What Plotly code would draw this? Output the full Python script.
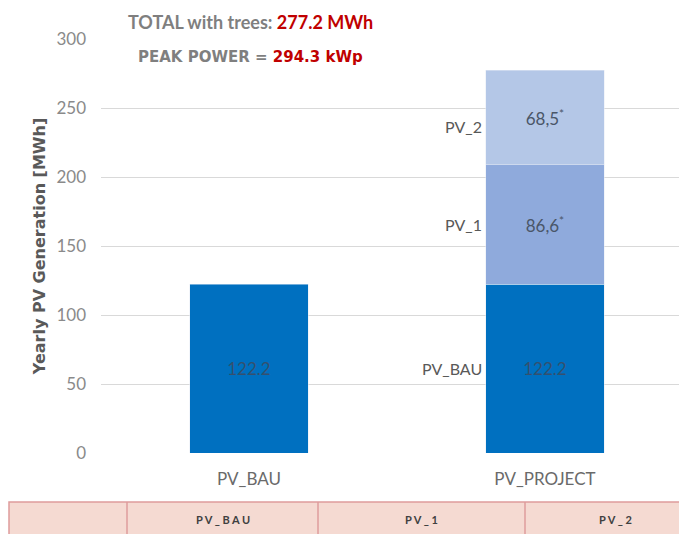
import plotly.graph_objects as go

# ---- data ----
categories = ["PV_BAU", "PV_PROJECT"]
pv_bau = [122.2, 122.2]
pv_1 = [86.6]
pv_2 = [68.5]
pv_bau_text = ["122.2", "122.2"]
pv_1_text = ["86,6<sup>*</sup>"]
pv_2_text = ["68,5<sup>*</sup>"]
segment_names = ["PV_BAU", "PV_1", "PV_2"]
table_headers = ["", "PV_BAU", "PV_1", "PV_2"]
total_text = "277.2 MWh"
peak_text = "294.3 kWp"
y_ticks = [0, 50, 100, 150, 200, 250, 300]

W, H = 679, 534
ML, MR, MT, MB = 101, 0, 39, 81
PW, PH = W - ML - MR, H - MT - MB

def px(x):
    return (x - ML) / PW

def py(y):
    return (H - MB - y) / PH

FONT = "Lato"
txt_col = "#4a5668"

fig = go.Figure()
fig.add_trace(go.Bar(x=categories, y=pv_bau, name=segment_names[0], marker_color="#0070C0",
                     text=pv_bau_text, textposition="inside", insidetextanchor="middle",
                     textfont=dict(color="#34506e", size=17, family=FONT), width=0.4))
fig.add_trace(go.Bar(x=categories[1:], y=pv_1, name=segment_names[1], marker_color="#8FAADC",
                     text=pv_1_text, textposition="inside", insidetextanchor="middle",
                     textfont=dict(color=txt_col, size=17, family=FONT), width=0.4))
fig.add_trace(go.Bar(x=categories[1:], y=pv_2, name=segment_names[2], marker_color="#B4C7E7",
                     text=pv_2_text, textposition="inside", insidetextanchor="middle",
                     textfont=dict(color=txt_col, size=17, family=FONT), width=0.4))

fig.update_layout(
    barmode="stack",
    width=W, height=H,
    margin=dict(l=ML, r=MR, t=MT, b=MB),
    plot_bgcolor="white", paper_bgcolor="white",
    showlegend=False,
    font=dict(family=FONT),
    xaxis=dict(range=[-0.5, 1.453], showgrid=False, showline=False, ticks="",
               ticklabelstandoff=14,
               tickfont=dict(size=17, color="#6a6a6a", family=FONT)),
    yaxis=dict(range=[0, 300], tickvals=y_ticks, gridcolor="#d9d9d9", gridwidth=1,
               zeroline=False, showline=False, ticks="", ticklabelstandoff=14,
               tickfont=dict(size=17, color="#8a8a8a", family=FONT),
               title=dict(text="<b>Yearly PV Generation [MWh]</b>", standoff=6,
                          font=dict(size=16, color="#595959", family="DejaVu Sans"))),
)

# segment labels to the left of the project bar
mids = [pv_bau[1] / 2, pv_bau[1] + pv_1[0] / 2, pv_bau[1] + pv_1[0] + pv_2[0] / 2]
yshifts = [0, 0, -9]
for name, m, ys in zip(segment_names, mids, yshifts):
    fig.add_annotation(x=1, y=m, xref="x", yref="y", text=name, showarrow=False,
                       xanchor="right", xshift=-61, yshift=ys,
                       font=dict(size=16, color="#595959", family=FONT))

# header texts
fig.add_annotation(x=px(126), y=py(22), xref="paper", yref="paper", xanchor="left", yanchor="middle",
                   text="<b>TOTAL with trees: <span style='color:#C00000'>" + total_text + "</span></b>",
                   showarrow=False, font=dict(size=18, color="#7f7f7f", family=FONT))
fig.add_annotation(x=px(136), y=py(57), xref="paper", yref="paper", xanchor="left", yanchor="middle",
                   text="<b>PEAK POWER = <span style='color:#C00000'>" + peak_text + "</span></b>",
                   showarrow=False, font=dict(size=15, color="#7f7f7f", family="DejaVu Sans"))

# table strip at bottom
col_edges = [9, 127, 318, 525, 690]
fig.add_shape(type="rect", xref="paper", yref="paper", x0=px(9), x1=px(690), y0=py(502), y1=py(540),
              fillcolor="#F5DAD2", line=dict(color="#DE9C9C", width=1.5), layer="above")
for e in col_edges[1:-1]:
    fig.add_shape(type="line", xref="paper", yref="paper", x0=px(e), x1=px(e), y0=py(502), y1=py(540),
                  line=dict(color="#DE9C9C", width=1.5))
for i, h in enumerate(table_headers):
    if not h:
        continue
    cx = (col_edges[i] + col_edges[i + 1]) / 2 if i < 3 else 615
    fig.add_annotation(x=px(cx), y=py(519), xref="paper", yref="paper", showarrow=False,
                       text="<b>" + " ".join(h) + "</b>", xanchor="center", yanchor="middle",
                       font=dict(size=11, color="#404040", family=FONT))

fig.write_html("out.html", config={"displayModeBar": False},
               post_script="document.body.style.margin='0';document.body.style.overflow='hidden';")
